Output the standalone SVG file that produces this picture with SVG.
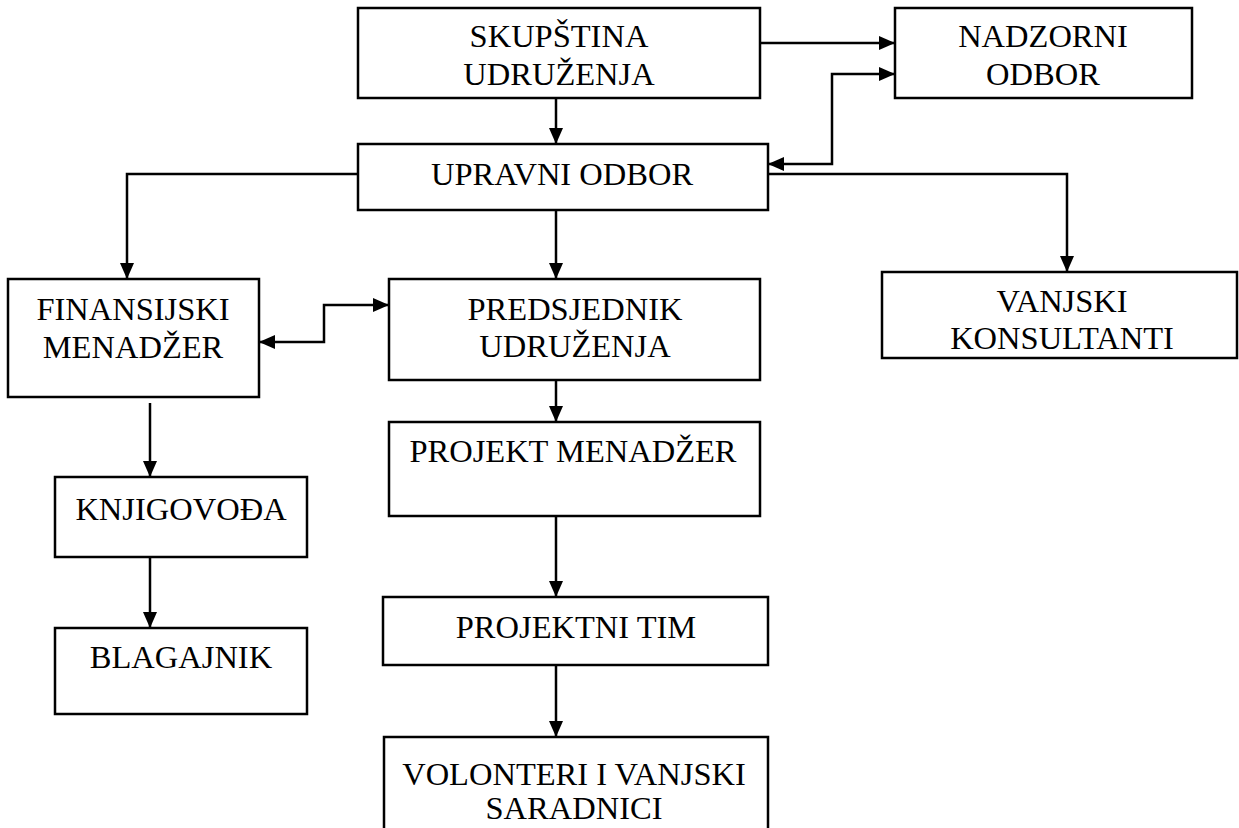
<svg xmlns="http://www.w3.org/2000/svg" width="1239" height="828" viewBox="0 0 1239 828">
<style>
.box{fill:#fff;stroke:#000;stroke-width:2.5}
.t{font-family:"Liberation Serif","Times New Roman",serif;font-size:32.5px;fill:#000;text-anchor:middle}
.c{fill:none;stroke:#000;stroke-width:2.5}
</style>
<defs>
<marker id="ah" markerUnits="userSpaceOnUse" markerWidth="18" markerHeight="16" refX="16" refY="7" orient="auto-start-reverse">
<path d="M0,0 L16,7 L0,14 z" fill="#000"/>
</marker>
</defs>
<rect width="1239" height="828" fill="#fff"/>
<g id="connectors">
<path class="c" d="M556,98 V144" marker-end="url(#ah)"/>
<path class="c" d="M760,43 H895" marker-end="url(#ah)"/>
<path class="c" d="M768,164 H832 V74 H895" marker-start="url(#ah)" marker-end="url(#ah)"/>
<path class="c" d="M358,174 H127 V279" marker-end="url(#ah)"/>
<path class="c" d="M768,174 H1067 V272" marker-end="url(#ah)"/>
<path class="c" d="M556,210 V279" marker-end="url(#ah)"/>
<path class="c" d="M259,342 H324 V305 H389" marker-start="url(#ah)" marker-end="url(#ah)"/>
<path class="c" d="M556,380 V422" marker-end="url(#ah)"/>
<path class="c" d="M150,403 V477" marker-end="url(#ah)"/>
<path class="c" d="M150,557 V628" marker-end="url(#ah)"/>
<path class="c" d="M556,516 V597" marker-end="url(#ah)"/>
<path class="c" d="M556,665 V737" marker-end="url(#ah)"/>
</g>
<g id="skupstina">
<rect class="box" x="358" y="8" width="402" height="90"/>
<text class="t" x="559" y="47">SKUPŠTINA</text>
<text class="t" x="559" y="85">UDRUŽENJA</text>
</g>
<g id="nadzorni">
<rect class="box" x="895" y="8" width="297" height="90"/>
<text class="t" x="1043" y="47">NADZORNI</text>
<text class="t" x="1043" y="85">ODBOR</text>
</g>
<g id="upravni">
<rect class="box" x="358" y="144" width="410" height="66"/>
<text class="t" x="562" y="185">UPRAVNI ODBOR</text>
</g>
<g id="finansijski">
<rect class="box" x="8" y="279" width="251" height="118"/>
<text class="t" x="133" y="320">FINANSIJSKI</text>
<text class="t" x="133" y="358">MENADŽER</text>
</g>
<g id="predsjednik">
<rect class="box" x="389" y="279" width="371" height="101"/>
<text class="t" x="575" y="320">PREDSJEDNIK</text>
<text class="t" x="575" y="357">UDRUŽENJA</text>
</g>
<g id="vanjski">
<rect class="box" x="882" y="272" width="355" height="86"/>
<text class="t" x="1062" y="312">VANJSKI</text>
<text class="t" x="1062" y="349">KONSULTANTI</text>
</g>
<g id="projekt-menadzer">
<rect class="box" x="389" y="422" width="371" height="94"/>
<text class="t" x="573" y="462">PROJEKT MENADŽER</text>
</g>
<g id="knjigovodja">
<rect class="box" x="55" y="477" width="252" height="80"/>
<text class="t" x="181" y="520">KNJIGOVOĐA</text>
</g>
<g id="blagajnik">
<rect class="box" x="55" y="628" width="252" height="86"/>
<text class="t" x="181" y="668">BLAGAJNIK</text>
</g>
<g id="projektni-tim">
<rect class="box" x="383" y="597" width="385" height="68"/>
<text class="t" x="576" y="638">PROJEKTNI TIM</text>
</g>
<g id="volonteri">
<path class="box" d="M384,830 V737 H768 V830"/>
<text class="t" x="574" y="785">VOLONTERI I VANJSKI</text>
<text class="t" x="574" y="819">SARADNICI</text>
</g>
</svg>
